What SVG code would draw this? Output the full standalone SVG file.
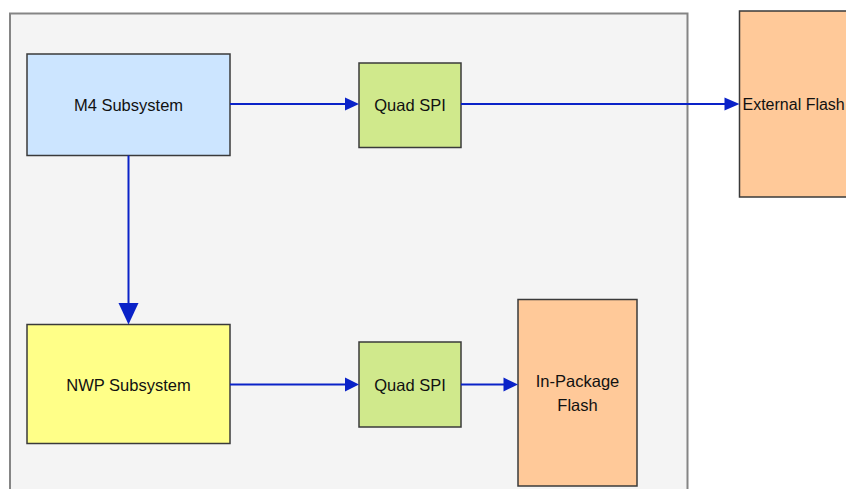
<svg xmlns="http://www.w3.org/2000/svg" width="846" height="489" viewBox="0 0 846 489">
<style>
.box{stroke:#3a3a3a;stroke-width:1.5}
.lbl{font-family:"Liberation Sans",Arial,sans-serif;font-size:16.5px;fill:#111;text-anchor:middle}
.conn{stroke:#0a22c8;stroke-width:2;fill:none}
.head{fill:#0a22c8}
</style>
<rect width="846" height="489" fill="#ffffff"/>
<g id="container">
<rect x="10" y="13.5" width="677.5" height="490" fill="#f4f4f4" stroke="#858585" stroke-width="2"/>
</g>
<g id="m4">
<rect class="box" x="27" y="54" width="203" height="101.5" fill="#cce5ff"/>
<text class="lbl" x="128.5" y="111">M4 Subsystem</text>
</g>
<g id="qspi1">
<rect class="box" x="359" y="63" width="102" height="84.5" fill="#d0e98c"/>
<text class="lbl" x="410" y="111">Quad SPI</text>
</g>
<g id="extflash">
<rect class="box" x="739.5" y="11" width="120" height="186" fill="#ffc999"/>
<text class="lbl" x="742.5" y="110" style="text-anchor:start;font-size:16px">External Flash</text>
</g>
<g id="nwp">
<rect class="box" x="27" y="324.5" width="203" height="119" fill="#ffff88"/>
<text class="lbl" x="128.5" y="391">NWP Subsystem</text>
</g>
<g id="qspi2">
<rect class="box" x="359" y="342" width="102" height="85" fill="#d0e98c"/>
<text class="lbl" x="410" y="391">Quad SPI</text>
</g>
<g id="inpkg">
<rect class="box" x="518" y="299.5" width="119" height="186.5" fill="#ffc999"/>
<text class="lbl" x="577.5" y="387">In-Package</text>
<text class="lbl" x="577.5" y="411">Flash</text>
</g>
<g id="connectors">
<line class="conn" x1="230" y1="104" x2="346" y2="104"/>
<polygon class="head" points="345,97.5 359,104 345,110.5"/>
<line class="conn" x1="461" y1="104" x2="726" y2="104"/>
<polygon class="head" points="724.5,97.5 739.5,104 724.5,110.5"/>
<line class="conn" x1="128.5" y1="155.5" x2="128.5" y2="305"/>
<polygon class="head" points="118.5,303 138.5,303 128.5,324.5"/>
<line class="conn" x1="230" y1="384.5" x2="346" y2="384.5"/>
<polygon class="head" points="345,377.5 359,384.5 345,391.5"/>
<line class="conn" x1="461" y1="384.5" x2="505" y2="384.5"/>
<polygon class="head" points="503.5,377.5 518,384.5 503.5,391.5"/>
</g>
</svg>
